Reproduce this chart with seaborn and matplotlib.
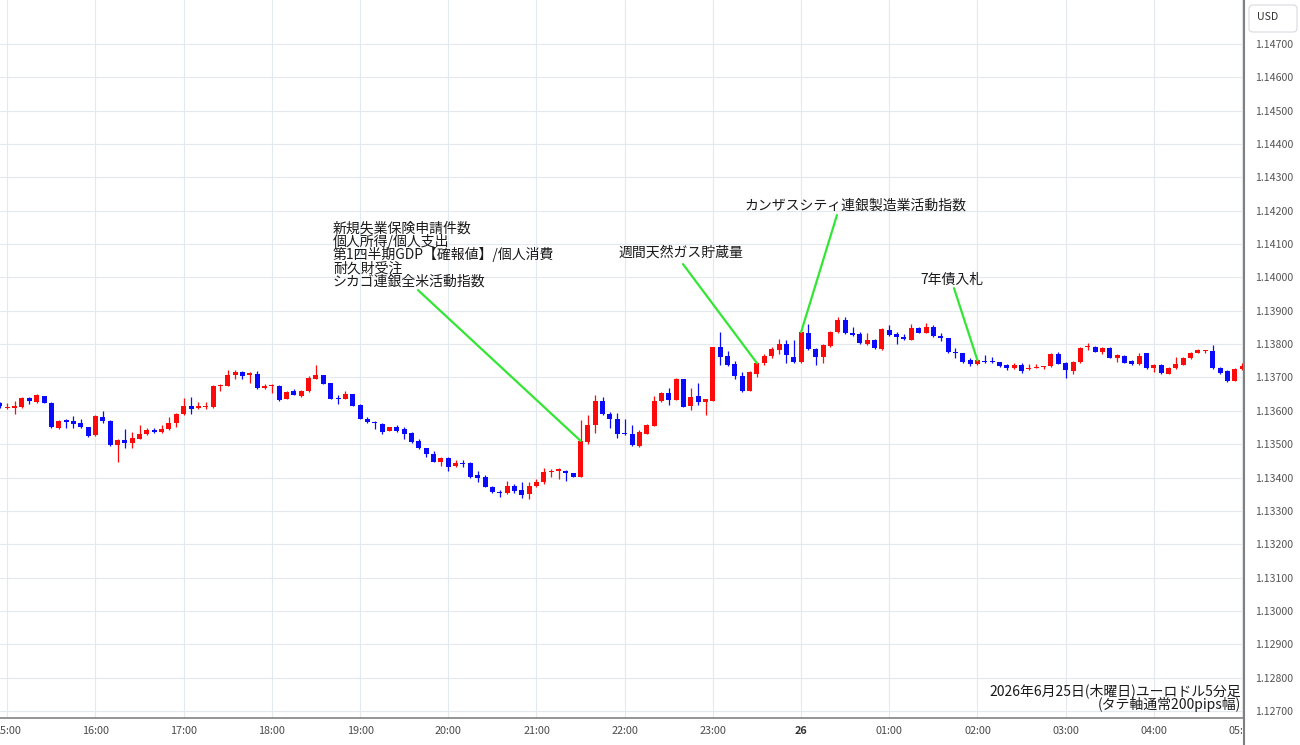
import numpy as np
import pandas as pd
import matplotlib
matplotlib.use("Agg")
import matplotlib.pyplot as plt
import seaborn as sns
from matplotlib.patches import FancyBboxPatch
from matplotlib.lines import Line2D
from matplotlib.transforms import Bbox, TransformedBbox, IdentityTransform

# ---------------- data ----------------
start_time = "2026-06-25 14:55"
n_candles = 170

open_ = [
    1.13624, 1.13608, 1.13610, 1.13612, 1.13640, 1.13628, 1.13645, 1.13625, 1.13549, 1.13572,
    1.13570, 1.13565, 1.13552, 1.13527, 1.13583, 1.13570, 1.13497, 1.13513, 1.13505, 1.13517,
    1.13530, 1.13543, 1.13537, 1.13545, 1.13565, 1.13590, 1.13615, 1.13608, 1.13612, 1.13612,
    1.13674, 1.13675, 1.13706, 1.13716, 1.13707, 1.13711, 1.13668, 1.13674, 1.13674, 1.13637,
    1.13658, 1.13646, 1.13658, 1.13696, 1.13706, 1.13683, 1.13640, 1.13637, 1.13650, 1.13617,
    1.13577, 1.13568, 1.13562, 1.13540, 1.13551, 1.13546, 1.13535, 1.13509, 1.13488, 1.13471,
    1.13448, 1.13460, 1.13435, 1.13444, 1.13445, 1.13408, 1.13401, 1.13373, 1.13357, 1.13353,
    1.13376, 1.13363, 1.13350, 1.13375, 1.13386, 1.13418, 1.13421, 1.13421, 1.13413, 1.13403,
    1.13508, 1.13557, 1.13630, 1.13591, 1.13577, 1.13533, 1.13531, 1.13496, 1.13532, 1.13556,
    1.13629, 1.13654, 1.13634, 1.13694, 1.13614, 1.13644, 1.13627, 1.13631, 1.13790, 1.13765,
    1.13740, 1.13705, 1.13659, 1.13711, 1.13743, 1.13763, 1.13782, 1.13799, 1.13761, 1.13747,
    1.13834, 1.13784, 1.13761, 1.13794, 1.13837, 1.13871, 1.13834, 1.13829, 1.13801, 1.13811,
    1.13784, 1.13842, 1.13829, 1.13821, 1.13812, 1.13849, 1.13834, 1.13852, 1.13824, 1.13817,
    1.13777, 1.13772, 1.13751, 1.13739, 1.13749, 1.13748, 1.13746, 1.13736, 1.13727, 1.13737,
    1.13724, 1.13729, 1.13731, 1.13733, 1.13769, 1.13742, 1.13719, 1.13747, 1.13791, 1.13792,
    1.13777, 1.13789, 1.13758, 1.13764, 1.13749, 1.13739, 1.13772, 1.13727, 1.13737, 1.13711,
    1.13727, 1.13737, 1.13757, 1.13774, 1.13780, 1.13779, 1.13729, 1.13719, 1.13690, 1.13726,
]
high_ = [
    1.13628, 1.13625, 1.13630, 1.13642, 1.13642, 1.13652, 1.13646, 1.13627, 1.13574, 1.13575,
    1.13585, 1.13577, 1.13553, 1.13587, 1.13600, 1.13572, 1.13515, 1.13545, 1.13538, 1.13558,
    1.13550, 1.13550, 1.13558, 1.13583, 1.13595, 1.13640, 1.13642, 1.13628, 1.13627, 1.13677,
    1.13679, 1.13721, 1.13721, 1.13718, 1.13716, 1.13718, 1.13680, 1.13680, 1.13677, 1.13658,
    1.13666, 1.13663, 1.13703, 1.13736, 1.13707, 1.13684, 1.13648, 1.13658, 1.13652, 1.13620,
    1.13582, 1.13569, 1.13564, 1.13552, 1.13559, 1.13551, 1.13537, 1.13517, 1.13490, 1.13481,
    1.13461, 1.13463, 1.13453, 1.13453, 1.13448, 1.13421, 1.13408, 1.13375, 1.13363, 1.13391,
    1.13380, 1.13386, 1.13386, 1.13396, 1.13428, 1.13425, 1.13428, 1.13423, 1.13415, 1.13572,
    1.13587, 1.13647, 1.13642, 1.13597, 1.13594, 1.13577, 1.13557, 1.13544, 1.13561, 1.13644,
    1.13657, 1.13667, 1.13698, 1.13695, 1.13667, 1.13684, 1.13637, 1.13792, 1.13836, 1.13778,
    1.13748, 1.13715, 1.13718, 1.13746, 1.13770, 1.13791, 1.13814, 1.13811, 1.13811, 1.13839,
    1.13859, 1.13789, 1.13801, 1.13839, 1.13882, 1.13882, 1.13851, 1.13837, 1.13834, 1.13814,
    1.13847, 1.13857, 1.13837, 1.13829, 1.13861, 1.13852, 1.13864, 1.13856, 1.13832, 1.13819,
    1.13787, 1.13774, 1.13757, 1.13754, 1.13766, 1.13761, 1.13747, 1.13739, 1.13744, 1.13744,
    1.13739, 1.13739, 1.13734, 1.13772, 1.13776, 1.13747, 1.13749, 1.13792, 1.13804, 1.13794,
    1.13791, 1.13791, 1.13771, 1.13767, 1.13752, 1.13774, 1.13774, 1.13741, 1.13739, 1.13731,
    1.13762, 1.13761, 1.13776, 1.13784, 1.13782, 1.13796, 1.13732, 1.13721, 1.13729, 1.13744,
]
low_ = [
    1.13610, 1.13607, 1.13590, 1.13610, 1.13622, 1.13625, 1.13624, 1.13550, 1.13545, 1.13548,
    1.13548, 1.13550, 1.13522, 1.13525, 1.13565, 1.13495, 1.13447, 1.13490, 1.13490, 1.13515,
    1.13528, 1.13533, 1.13533, 1.13543, 1.13553, 1.13588, 1.13592, 1.13607, 1.13607, 1.13610,
    1.13660, 1.13673, 1.13696, 1.13696, 1.13683, 1.13666, 1.13666, 1.13653, 1.13629, 1.13635,
    1.13648, 1.13641, 1.13656, 1.13695, 1.13680, 1.13636, 1.13622, 1.13636, 1.13614, 1.13575,
    1.13564, 1.13547, 1.13532, 1.13539, 1.13537, 1.13517, 1.13505, 1.13486, 1.13461, 1.13446,
    1.13435, 1.13420, 1.13431, 1.13433, 1.13400, 1.13388, 1.13371, 1.13353, 1.13341, 1.13351,
    1.13353, 1.13338, 1.13336, 1.13371, 1.13381, 1.13401, 1.13396, 1.13390, 1.13401, 1.13402,
    1.13500, 1.13534, 1.13587, 1.13549, 1.13519, 1.13529, 1.13496, 1.13491, 1.13531, 1.13555,
    1.13626, 1.13617, 1.13633, 1.13611, 1.13604, 1.13617, 1.13589, 1.13629, 1.13738, 1.13733,
    1.13695, 1.13657, 1.13658, 1.13701, 1.13738, 1.13757, 1.13769, 1.13742, 1.13744, 1.13744,
    1.13781, 1.13737, 1.13742, 1.13792, 1.13834, 1.13829, 1.13824, 1.13801, 1.13796, 1.13784,
    1.13782, 1.13824, 1.13799, 1.13812, 1.13811, 1.13832, 1.13832, 1.13822, 1.13809, 1.13774,
    1.13757, 1.13744, 1.13734, 1.13737, 1.13744, 1.13744, 1.13732, 1.13722, 1.13724, 1.13714,
    1.13722, 1.13727, 1.13724, 1.13732, 1.13739, 1.13699, 1.13711, 1.13744, 1.13781, 1.13776,
    1.13769, 1.13757, 1.13747, 1.13742, 1.13736, 1.13738, 1.13724, 1.13717, 1.13711, 1.13709,
    1.13726, 1.13736, 1.13756, 1.13772, 1.13774, 1.13724, 1.13711, 1.13685, 1.13689, 1.13721,
]
close_ = [
    1.13616, 1.13611, 1.13615, 1.13640, 1.13630, 1.13647, 1.13625, 1.13552, 1.13571, 1.13568,
    1.13562, 1.13552, 1.13525, 1.13585, 1.13570, 1.13497, 1.13512, 1.13503, 1.13518, 1.13530,
    1.13543, 1.13537, 1.13547, 1.13565, 1.13592, 1.13615, 1.13605, 1.13614, 1.13616, 1.13675,
    1.13678, 1.13708, 1.13716, 1.13703, 1.13713, 1.13668, 1.13675, 1.13676, 1.13634, 1.13656,
    1.13649, 1.13660, 1.13698, 1.13706, 1.13681, 1.13637, 1.13637, 1.13650, 1.13616, 1.13576,
    1.13566, 1.13565, 1.13538, 1.13551, 1.13541, 1.13532, 1.13507, 1.13488, 1.13471, 1.13448,
    1.13460, 1.13433, 1.13445, 1.13442, 1.13403, 1.13398, 1.13373, 1.13356, 1.13353, 1.13376,
    1.13360, 1.13348, 1.13375, 1.13388, 1.13418, 1.13421, 1.13425, 1.13413, 1.13403, 1.13510,
    1.13557, 1.13630, 1.13592, 1.13576, 1.13531, 1.13530, 1.13497, 1.13536, 1.13557, 1.13631,
    1.13654, 1.13634, 1.13696, 1.13612, 1.13642, 1.13627, 1.13636, 1.13790, 1.13761, 1.13736,
    1.13703, 1.13659, 1.13715, 1.13743, 1.13765, 1.13784, 1.13799, 1.13767, 1.13747, 1.13836,
    1.13784, 1.13761, 1.13796, 1.13837, 1.13872, 1.13832, 1.13827, 1.13802, 1.13812, 1.13787,
    1.13844, 1.13826, 1.13821, 1.13814, 1.13849, 1.13834, 1.13851, 1.13824, 1.13817, 1.13777,
    1.13774, 1.13747, 1.13739, 1.13751, 1.13746, 1.13745, 1.13734, 1.13727, 1.13737, 1.13719,
    1.13729, 1.13732, 1.13733, 1.13769, 1.13741, 1.13721, 1.13747, 1.13789, 1.13794, 1.13777,
    1.13787, 1.13759, 1.13766, 1.13744, 1.13739, 1.13764, 1.13727, 1.13737, 1.13712, 1.13729,
    1.13741, 1.13759, 1.13774, 1.13781, 1.13782, 1.13729, 1.13714, 1.13690, 1.13726, 1.13735,
]

price_ticks = [1.127, 1.128, 1.129, 1.130, 1.131, 1.132, 1.133, 1.134, 1.135, 1.136,
               1.137, 1.138, 1.139, 1.140, 1.141, 1.142, 1.143, 1.144, 1.145, 1.146, 1.147]

event_times = ["2026-06-25 21:30", "2026-06-25 23:30", "2026-06-26 00:00", "2026-06-26 02:00"]
event_labels = [
    ["新規失業保険申請件数", "個人所得/個人支出", "第1四半期GDP【確報値】/個人消費",
     "耐久財受注", "シカゴ連銀全米活動指数"],
    ["週間天然ガス貯蔵量"],
    ["カンザスシティ連銀製造業活動指数"],
    ["7年債入札"],
]
caption_lines = ["2026年6月25日(木曜日)ユーロドル5分足", "(タテ軸通常200pips幅)"]
currency = "USD"

# ---------------- style ----------------
sns.set_theme(style="white")
plt.rcParams["font.family"] = ["Noto Sans CJK JP", "DejaVu Sans"]

W, H = 1300, 745
fig = plt.figure(figsize=(13, 7.45), dpi=100)
fig.patch.set_facecolor("white")
ax = fig.add_axes([0, 27 / H, 1244 / W, 718 / H])
ax.set_facecolor("white")

times = pd.date_range(start_time, periods=n_candles, freq="5min")
origin = pd.Timestamp("2026-06-25 15:00")
x = ((times - origin) / pd.Timedelta("5min")).to_numpy(dtype=float)

df = pd.DataFrame({"x": x, "open": open_, "high": high_, "low": low_, "close": close_})
df["up"] = df["close"] >= df["open"]
up_col, dn_col = "#ff0a0a", "#0a0aff"
cols = np.where(df["up"], up_col, dn_col)
body_bottom = np.minimum(df["open"], df["close"])
body_h = np.maximum((df["close"] - df["open"]).abs(), 0.00003)

ax.vlines(df["x"], df["low"], df["high"], colors=cols, linewidth=0.9, zorder=2)
ax.bar(df["x"], body_h, bottom=body_bottom, width=0.68, color=cols, linewidth=0, zorder=3)

# axes limits (pixel-calibrated)
ax.set_xlim(-0.993, 168.26)
ax.set_ylim(1.12679, 1.148319)

# hourly ticks
hour_mask = times.minute == 0
hx = x[hour_mask]
hlabels = []
for t in times[hour_mask]:
    hlabels.append(str(t.day) if t.hour == 0 else t.strftime("%H:%M"))
ax.set_xticks(hx)
ax.set_xticklabels(hlabels)
ax.set_yticks(price_ticks)
ax.set_yticklabels([f"{v:.5f}" for v in price_ticks])
ax.yaxis.tick_right()
ax.tick_params(axis="x", length=0, pad=5.5, labelsize=7.8, labelcolor="#4a4a4a")
ax.tick_params(axis="y", length=0, pad=8, labelsize=7.6, labelcolor="#555555")
for lbl in ax.get_xticklabels():
    if lbl.get_text() == "26":
        lbl.set_fontweight("bold")
        lbl.set_color("#333333")

ax.grid(True, color="#e4e9f0", linewidth=0.8, zorder=0)
ax.set_axisbelow(True)
for s in ["top", "left", "right"]:
    ax.spines[s].set_visible(False)
ax.spines["bottom"].set_color("#8c8c8c")
ax.spines["bottom"].set_linewidth(1.3)

# price scale separator
fig.add_artist(Line2D([1244 / W, 1244 / W], [0, 1], transform=fig.transFigure,
                      color="#7f7f7f", linewidth=1.5))

# currency box
fig.add_artist(FancyBboxPatch((1249, H - 32), 48, 27, boxstyle="round,pad=0,rounding_size=4",
                              transform=IdentityTransform(), facecolor="white",
                              edgecolor="#d6dae0", linewidth=0.8))
fig.text(1268 / W, 1 - 17 / H, currency, ha="center", va="center", fontsize=7.6, color="#333333")

# ---------------- event annotations ----------------
green = "#33e633"
layout = [
    # (line start x, line start y, text left x, first line center y)
    (55.88, 1.13962, 44.31, 1.14148),
    (91.93, 1.14040, 83.22, 1.14073),
    (112.88, 1.14187, 100.23, 1.14214),
    (128.80, 1.13968, 124.18, 1.13992),
]
for et, lines, (lx, ly, tx, ty) in zip(event_times, event_labels, layout):
    k = int((pd.Timestamp(et) - pd.Timestamp(start_time)) / pd.Timedelta("5min"))
    ex, ey = df["x"].iloc[k], df["close"].iloc[k]
    ax.plot([lx, ex], [ly, ey], color=green, linewidth=1.6, zorder=4, solid_capstyle="round")
    for j, line in enumerate(lines):
        ax.annotate(line, xy=(tx, ty), xytext=(0, -9.65 * j), textcoords="offset points",
                    ha="left", va="center", fontsize=10, color="#1a1a1a", zorder=5)

# caption bottom right
fig.text(1241 / W, 1 - 690.5 / H, caption_lines[0], ha="right", va="center",
         fontsize=10, color="#1a1a1a")
fig.text(1241 / W, 1 - 705 / H, caption_lines[1], ha="right", va="center",
         fontsize=10, color="#1a1a1a")

# clip time labels to the chart pane
fig.canvas.draw()
clipbox = TransformedBbox(Bbox([[0, 0], [1244 / W, 1]]), fig.transFigure)
for lbl in ax.get_xticklabels():
    lbl.set_clip_box(clipbox)
    lbl.set_clip_on(True)

fig.savefig("out.png", dpi=100, facecolor="white")
